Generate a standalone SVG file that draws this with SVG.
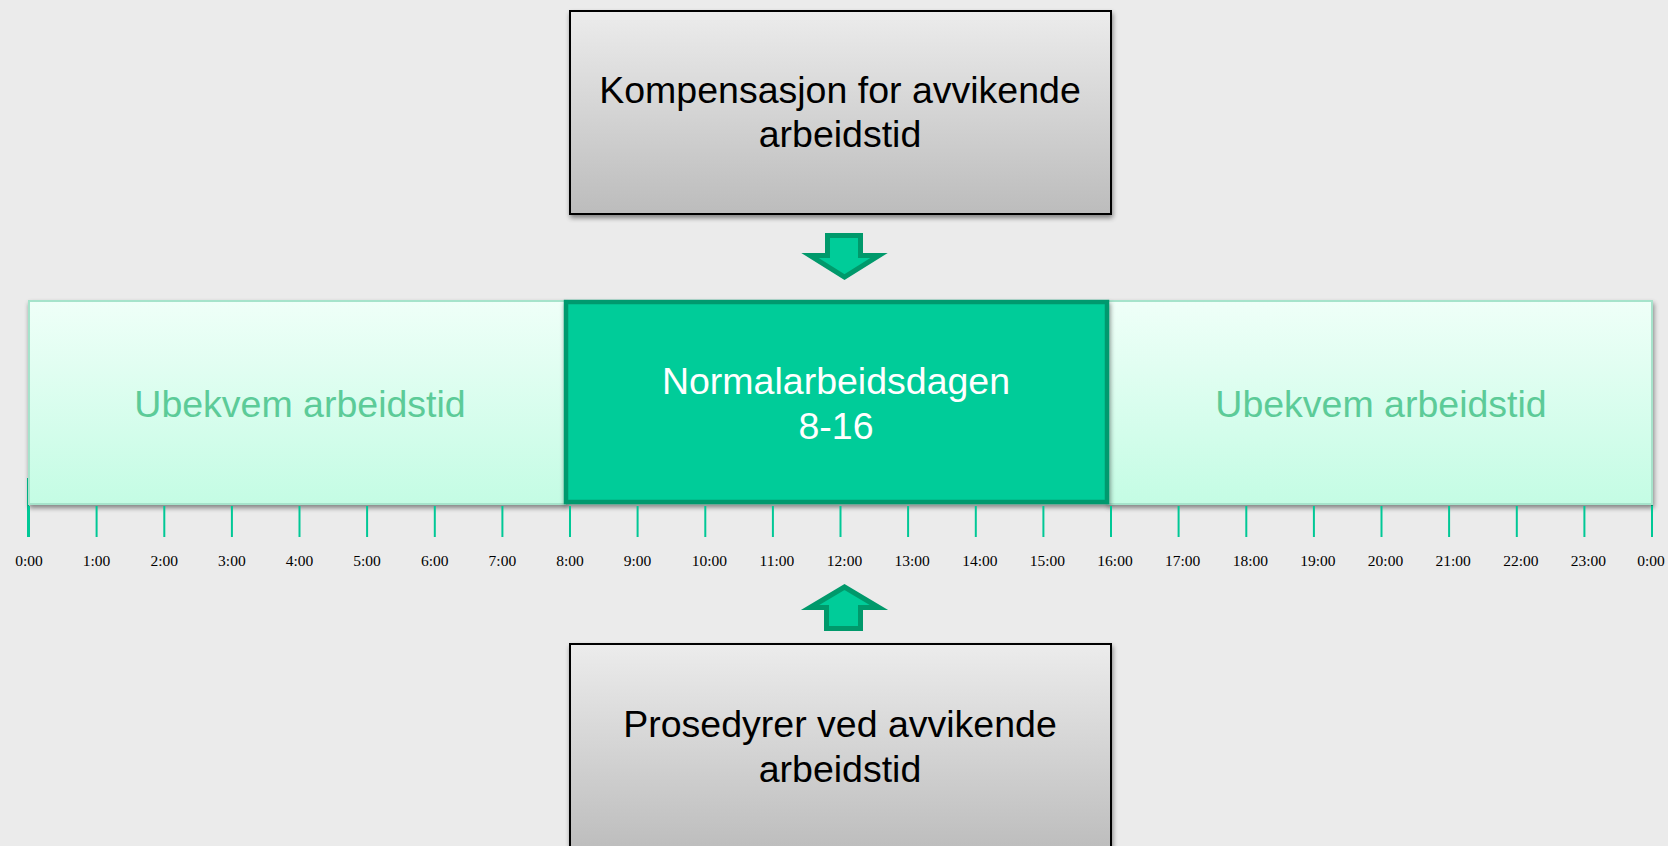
<svg xmlns="http://www.w3.org/2000/svg" width="1668" height="846" viewBox="0 0 1668 846">
<defs>
<linearGradient id="gGray" x1="0" y1="0" x2="0" y2="1">
<stop offset="0" stop-color="#ececec"/>
<stop offset="1" stop-color="#bcbcbc"/>
</linearGradient>
<linearGradient id="gMint" x1="0" y1="0" x2="0" y2="1">
<stop offset="0" stop-color="#effff8"/>
<stop offset="1" stop-color="#c4fce4"/>
</linearGradient>
<filter id="sh" x="-5%" y="-5%" width="110%" height="115%">
<feGaussianBlur in="SourceAlpha" stdDeviation="2.5"/>
<feOffset dx="1" dy="3" result="b"/>
<feComponentTransfer><feFuncA type="linear" slope="0.45"/></feComponentTransfer>
<feMerge><feMergeNode/><feMergeNode in="SourceGraphic"/></feMerge>
</filter>
</defs>
<style>
.box{fill:url(#gGray);stroke:#000;stroke-width:2}
.band{fill:url(#gMint);stroke:#a6e3cb;stroke-width:2}
.main{fill:#00cc99;stroke:#00996e;stroke-width:4.5}
.arrow{fill:#00cc99;stroke:#00996b;stroke-width:5;stroke-linejoin:miter}
.t{font-family:"Liberation Sans",Arial,sans-serif;font-size:37.5px;text-anchor:middle}
.tick{stroke:#00c896;stroke-width:2}
.lbl{font-family:"Liberation Serif","Times New Roman",serif;font-size:15.5px;text-anchor:middle;fill:#000}
</style>
<rect width="1668" height="846" fill="#ebebeb"/>
<g id="ticks">
<line class="tick" x1="28" y1="478" x2="28" y2="537"/>
<line class="tick" x1="1652" y1="478" x2="1652" y2="537"/>
</g>
<g id="band-left">
<rect class="band" x="29" y="301" width="536" height="203" filter="url(#sh)"/>
<text class="t" x="300" y="417" fill="#5ccb98">Ubekvem arbeidstid</text>
</g>
<g id="band-right">
<rect class="band" x="1108" y="301" width="544" height="203" filter="url(#sh)"/>
<text class="t" x="1381" y="417" fill="#5ccb98">Ubekvem arbeidstid</text>
</g>
<g id="normal">
<rect class="main" x="566" y="302" width="541" height="200" filter="url(#sh)"/>
<text class="t" x="836" y="394" fill="#fff">Normalarbeidsdagen</text>
<text class="t" x="836" y="439" fill="#fff">8-16</text>
</g>
<g id="axis">
<g id="tickmarks">
<line class="tick" x1="29" y1="506" x2="29" y2="537"/>
<line class="tick" x1="96.6" y1="506" x2="96.6" y2="537"/>
<line class="tick" x1="164.3" y1="506" x2="164.3" y2="537"/>
<line class="tick" x1="231.9" y1="506" x2="231.9" y2="537"/>
<line class="tick" x1="299.5" y1="506" x2="299.5" y2="537"/>
<line class="tick" x1="367.1" y1="506" x2="367.1" y2="537"/>
<line class="tick" x1="434.8" y1="506" x2="434.8" y2="537"/>
<line class="tick" x1="502.4" y1="506" x2="502.4" y2="537"/>
<line class="tick" x1="570" y1="506" x2="570" y2="537"/>
<line class="tick" x1="637.6" y1="506" x2="637.6" y2="537"/>
<line class="tick" x1="705.3" y1="506" x2="705.3" y2="537"/>
<line class="tick" x1="772.9" y1="506" x2="772.9" y2="537"/>
<line class="tick" x1="840.5" y1="506" x2="840.5" y2="537"/>
<line class="tick" x1="908.1" y1="506" x2="908.1" y2="537"/>
<line class="tick" x1="975.8" y1="506" x2="975.8" y2="537"/>
<line class="tick" x1="1043.4" y1="506" x2="1043.4" y2="537"/>
<line class="tick" x1="1111" y1="506" x2="1111" y2="537"/>
<line class="tick" x1="1178.6" y1="506" x2="1178.6" y2="537"/>
<line class="tick" x1="1246.3" y1="506" x2="1246.3" y2="537"/>
<line class="tick" x1="1313.9" y1="506" x2="1313.9" y2="537"/>
<line class="tick" x1="1381.5" y1="506" x2="1381.5" y2="537"/>
<line class="tick" x1="1449.1" y1="506" x2="1449.1" y2="537"/>
<line class="tick" x1="1516.8" y1="506" x2="1516.8" y2="537"/>
<line class="tick" x1="1584.4" y1="506" x2="1584.4" y2="537"/>
<line class="tick" x1="1652" y1="506" x2="1652" y2="537"/>
</g>
<g id="labels">
<text class="lbl" x="29" y="566">0:00</text>
<text class="lbl" x="96.6" y="566">1:00</text>
<text class="lbl" x="164.3" y="566">2:00</text>
<text class="lbl" x="231.9" y="566">3:00</text>
<text class="lbl" x="299.5" y="566">4:00</text>
<text class="lbl" x="367.1" y="566">5:00</text>
<text class="lbl" x="434.8" y="566">6:00</text>
<text class="lbl" x="502.4" y="566">7:00</text>
<text class="lbl" x="570" y="566">8:00</text>
<text class="lbl" x="637.6" y="566">9:00</text>
<text class="lbl" x="709.3" y="566">10:00</text>
<text class="lbl" x="776.9" y="566">11:00</text>
<text class="lbl" x="844.5" y="566">12:00</text>
<text class="lbl" x="912.1" y="566">13:00</text>
<text class="lbl" x="979.8" y="566">14:00</text>
<text class="lbl" x="1047.4" y="566">15:00</text>
<text class="lbl" x="1115" y="566">16:00</text>
<text class="lbl" x="1182.6" y="566">17:00</text>
<text class="lbl" x="1250.3" y="566">18:00</text>
<text class="lbl" x="1317.9" y="566">19:00</text>
<text class="lbl" x="1385.5" y="566">20:00</text>
<text class="lbl" x="1453.1" y="566">21:00</text>
<text class="lbl" x="1520.8" y="566">22:00</text>
<text class="lbl" x="1588.4" y="566">23:00</text>
<text class="lbl" x="1651" y="566">0:00</text>
</g>
</g>
<g id="top-box">
<rect class="box" x="570" y="11" width="541" height="203" filter="url(#sh)"/>
<text class="t" x="840" y="103" fill="#000">Kompensasjon for avvikende</text>
<text class="t" x="840" y="147" fill="#000">arbeidstid</text>
</g>
<g id="bottom-box">
<rect class="box" x="570" y="644" width="541" height="210" filter="url(#sh)"/>
<text class="t" x="840" y="737" fill="#000">Prosedyrer ved avvikende</text>
<text class="t" x="840" y="782" fill="#000">arbeidstid</text>
</g>
<g id="connectors">
<polygon class="arrow" points="827.5,235.5 860.5,235.5 860.5,255.5 879,255.5 844.5,277 810,255.5 827.5,255.5"/>
<polygon class="arrow" points="826.5,628.5 860.5,628.5 860.5,607.5 879,607.5 844.5,587 810,607.5 826.5,607.5"/>
</g>
</svg>
